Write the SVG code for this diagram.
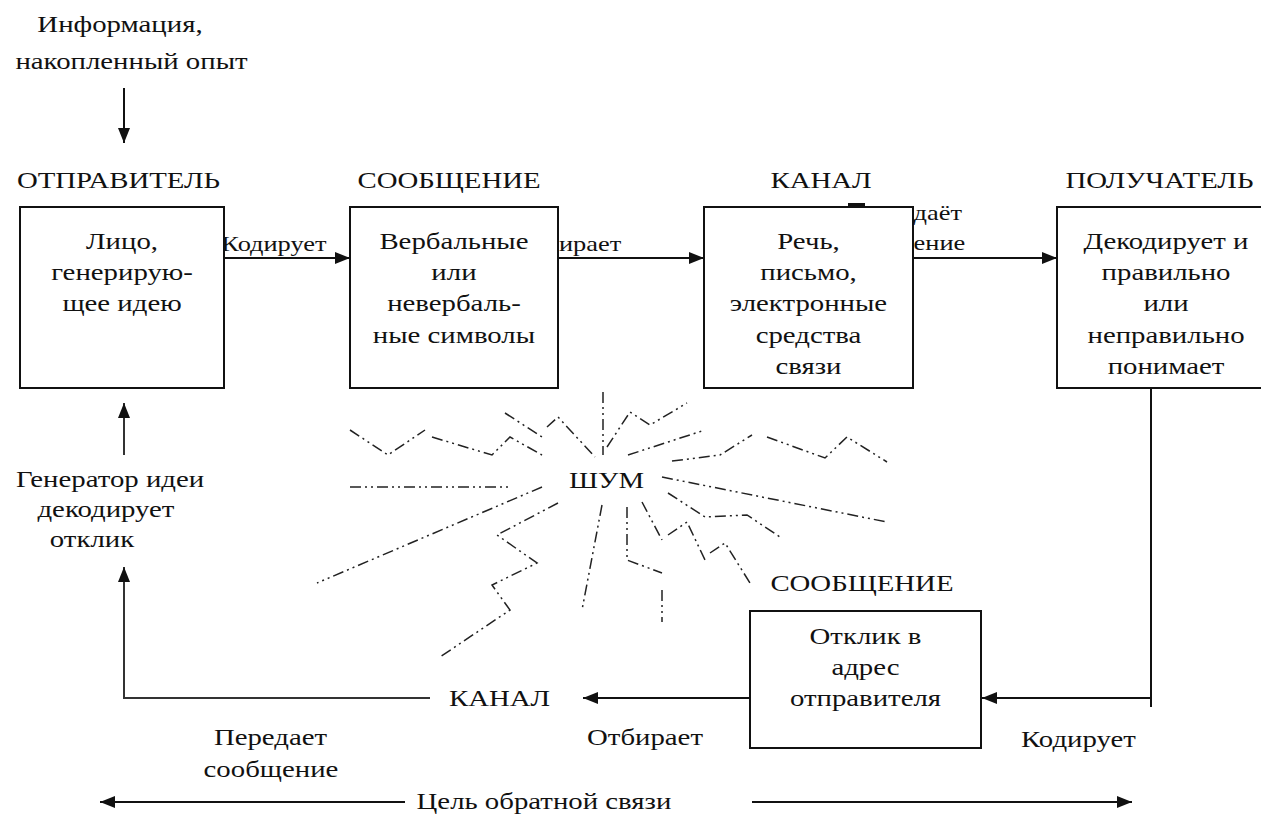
<svg xmlns="http://www.w3.org/2000/svg" width="1261" height="816" viewBox="0 0 1261 816">
<style>
text{font-family:'Liberation Serif','DejaVu Serif',serif;font-size:24px;fill:#111;text-anchor:middle}
text.s{font-size:22px}
text.st{text-anchor:start}
.box{fill:#fff;stroke:#111;stroke-width:2}
.ln{fill:none;stroke:#111;stroke-width:2}
.gr{fill:none;stroke:#333;stroke-width:2}
.nz{fill:none;stroke:#222;stroke-width:1.5;stroke-dasharray:11 4 2 4 2 4}
</style>
<defs>
<marker id="ah" markerUnits="userSpaceOnUse" markerWidth="15" markerHeight="12" refX="15" refY="6" orient="auto">
<path d="M0,0 L15,6 L0,12 z" fill="#111"/>
</marker>
</defs>
<rect width="1261" height="816" fill="#fff"/>

<g id="edge-labels">
<text class="s" transform="scale(1.2 1)" x="228.3" y="251">Кодирует</text>
<text class="s st" transform="scale(1.2 1)" x="465.8" y="251">ирает</text>
<text class="s st" transform="scale(1.2 1)" x="761.3" y="220">даёт</text>
<text class="s st" transform="scale(1.2 1)" x="761.3" y="250">ение</text>
</g>

<g id="connectors">
<line class="ln" x1="124" y1="88" x2="124" y2="143" marker-end="url(#ah)"/>
<line class="ln" x1="224" y1="258" x2="350" y2="258" marker-end="url(#ah)"/>
<line class="ln" x1="558" y1="258" x2="704" y2="258" marker-end="url(#ah)"/>
<line class="ln" x1="913" y1="258" x2="1057" y2="258" marker-end="url(#ah)"/>
<polyline class="ln" points="1151,388 1151,707"/>
<line class="ln" x1="1151" y1="698" x2="982" y2="698" marker-end="url(#ah)"/>
<line class="ln" x1="750" y1="698" x2="583" y2="698" marker-end="url(#ah)"/>
<polyline class="gr" points="430,698 124,698 124,567" marker-end="url(#ah)"/>
<line class="gr" x1="124" y1="455" x2="124" y2="403" marker-end="url(#ah)"/>
<line class="ln" x1="405" y1="802" x2="100" y2="802" marker-end="url(#ah)"/>
<line class="ln" x1="752" y1="802" x2="1132" y2="802" marker-end="url(#ah)"/>
</g>

<g id="info">
<text transform="scale(1.2 1)" x="100" y="32">Информация,</text>
<text transform="scale(1.2 1)" x="109.6" y="69">накопленный опыт</text>
</g>

<g id="sender">
<text transform="scale(1.2 1)" x="98.75" y="188">ОТПРАВИТЕЛЬ</text>
<rect class="box" x="20" y="207" width="204" height="181"/>
<text transform="scale(1.2 1)" x="101.7" y="249">Лицо,</text>
<text transform="scale(1.2 1)" x="101.7" y="280.25">генерирую-</text>
<text transform="scale(1.2 1)" x="101.7" y="311.5">щее идею</text>
</g>

<g id="message">
<text transform="scale(1.2 1)" x="374.2" y="188">СООБЩЕНИЕ</text>
<rect class="box" x="350" y="207" width="208" height="181"/>
<text transform="scale(1.2 1)" x="378.3" y="249">Вербальные</text>
<text transform="scale(1.2 1)" x="378.3" y="280.25">или</text>
<text transform="scale(1.2 1)" x="378.3" y="311.5">невербаль-</text>
<text transform="scale(1.2 1)" x="378.3" y="342.75">ные символы</text>
</g>

<g id="channel">
<text transform="scale(1.2 1)" x="684.2" y="188">КАНАЛ</text>
<rect class="box" x="704" y="207" width="209" height="181"/>
<rect x="848" y="203" width="17" height="3" fill="#111"/>
<text transform="scale(1.2 1)" x="673.75" y="249">Речь,</text>
<text transform="scale(1.2 1)" x="673.75" y="280.25">письмо,</text>
<text transform="scale(1.2 1)" x="673.75" y="311.5">электронные</text>
<text transform="scale(1.2 1)" x="673.75" y="342.75">средства</text>
<text transform="scale(1.2 1)" x="673.75" y="374">связи</text>
</g>

<g id="receiver">
<text transform="scale(1.2 1)" x="966.25" y="188">ПОЛУЧАТЕЛЬ</text>
<rect class="box" x="1057" y="207" width="210" height="181"/>
<text transform="scale(1.2 1)" x="971.7" y="249">Декодирует и</text>
<text transform="scale(1.2 1)" x="971.7" y="280.25">правильно</text>
<text transform="scale(1.2 1)" x="971.7" y="311.5">или</text>
<text transform="scale(1.2 1)" x="971.7" y="342.75">неправильно</text>
<text transform="scale(1.2 1)" x="971.7" y="374">понимает</text>
</g>

<g id="noise">
<polyline class="nz" points="350,430 388,455 425,430"/>
<polyline class="nz" points="432,437 492,455 510,437 542,455"/>
<polyline class="nz" points="505,413 542,437"/>
<polyline class="nz" points="547,427 558,417 595,457"/>
<polyline class="nz" points="603,392 603,455"/>
<polyline class="nz" points="607,447 630,412 650,425 687,403"/>
<polyline class="nz" points="628,455 705,430"/>
<polyline class="nz" points="672,461 720,455 752,435"/>
<polyline class="nz" points="767,437 825,458 847,437 887,462"/>
<polyline class="nz" points="350,487 510,487"/>
<polyline class="nz" points="542,487 317,583"/>
<polyline class="nz" points="662,477 887,522"/>
<polyline class="nz" points="668,493 705,517 747,515 780,537"/>
<polyline class="nz" points="642,502 662,540"/>
<polyline class="nz" points="668,535 687,522 705,560"/>
<polyline class="nz" points="710,553 725,543 750,583"/>
<polyline class="nz" points="627,507 627,560 662,573"/>
<polyline class="nz" points="662,590 662,622"/>
<polyline class="nz" points="602,505 582,610"/>
<polyline class="nz" points="558,503 497,535 537,563 492,585 510,610 440,657"/>
<text transform="scale(1.2 1)" x="505.4" y="488">ШУМ</text>
</g>

<g id="response">
<text transform="scale(1.2 1)" x="718.3" y="591">СООБЩЕНИЕ</text>
<rect class="box" x="750" y="611" width="231" height="137"/>
<text transform="scale(1.2 1)" x="721.25" y="644">Отклик в</text>
<text transform="scale(1.2 1)" x="721.25" y="675">адрес</text>
<text transform="scale(1.2 1)" x="721.25" y="706">отправителя</text>
</g>

<g id="channel2">
<text transform="scale(1.2 1)" x="416.25" y="706">КАНАЛ</text>
</g>

<g id="decode">
<text transform="scale(1.2 1)" x="91.7" y="487">Генератор идеи</text>
<text transform="scale(1.2 1)" x="88.3" y="517">декодирует</text>
<text transform="scale(1.2 1)" x="76.7" y="547">отклик</text>
</g>

<g id="bottom-labels">
<text transform="scale(1.2 1)" x="537.5" y="745">Отбирает</text>
<text transform="scale(1.2 1)" x="898.75" y="747">Кодирует</text>
<text transform="scale(1.2 1)" x="225.4" y="745">Передает</text>
<text transform="scale(1.2 1)" x="225.8" y="777">сообщение</text>
<text transform="scale(1.2 1)" x="453.3" y="809">Цель обратной связи</text>
</g>
</svg>
